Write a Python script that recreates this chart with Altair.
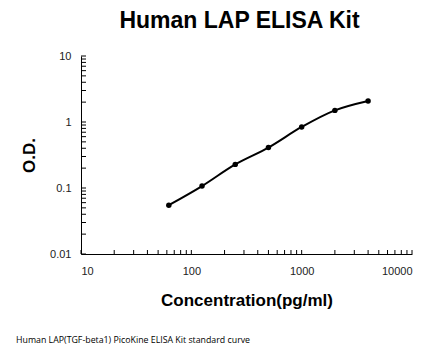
import altair as alt
import pandas as pd

conc = [62.5, 125, 250, 500, 1000, 2000, 4000]
od = [0.055, 0.107, 0.228, 0.41, 0.84, 1.50, 2.08]

x_major = [10, 100, 1000, 10000]
y_major = [0.01, 0.1, 1, 10]
x_minor = [m * 10 ** e for e in range(1, 4) for m in range(2, 10)]
y_minor = [m * 10.0 ** e for e in range(-2, 1) for m in range(2, 10)]

title_text = "Human LAP ELISA Kit"
x_title = "Concentration(pg/ml)"
y_title = "O.D."
footnote = "Human LAP(TGF-beta1) PicoKine ELISA Kit standard curve"

W, H = 331, 198
FONT = "Liberation Sans"

df = pd.DataFrame({"conc": conc, "od": od})

xs = alt.Scale(type="log", domain=[10, 10000])
ys = alt.Scale(type="log", domain=[0.01, 10])

xaxis = alt.Axis(values=x_major, format="~g", ticks=False, grid=False,
                 domainColor="black", domainWidth=1,
                 labelFont=FONT, labelFontSize=11, labelColor="#222",
                 labelPadding=11, title=x_title, titleFont=FONT,
                 titleFontSize=17, titleFontWeight="bold", titleColor="black",
                 titlePadding=16)
yaxis = alt.Axis(values=y_major, format="~g", ticks=False, grid=False,
                 domainColor="black", domainWidth=1,
                 labelFont=FONT, labelFontSize=11, labelColor="#222",
                 labelPadding=10, title=y_title, titleFont=FONT,
                 titleFontSize=17, titleFontWeight="bold", titleColor="black",
                 titlePadding=11)

line = alt.Chart(df).mark_line(color="black", strokeWidth=2,
                               interpolate="catmull-rom").encode(
    x=alt.X("conc:Q", scale=xs, axis=xaxis),
    y=alt.Y("od:Q", scale=ys, axis=yaxis),
)
pts = alt.Chart(df).mark_point(filled=True, color="black", size=30,
                               opacity=1).encode(
    x=alt.X("conc:Q", scale=xs),
    y=alt.Y("od:Q", scale=ys),
)

xt = pd.DataFrame({"v": x_major + x_minor})
yt = pd.DataFrame({"v": y_major + y_minor})
xticks = alt.Chart(xt).mark_rule(color="black", strokeWidth=1).encode(
    x=alt.X("v:Q", scale=xs),
    y=alt.value(H), y2=alt.value(H - 4),
)
yticks = alt.Chart(yt).mark_rule(color="black", strokeWidth=1).encode(
    y=alt.Y("v:Q", scale=ys),
    x=alt.value(0), x2=alt.value(5),
)

note = alt.Chart(pd.DataFrame({"t": [footnote]})).mark_text(
    align="left", baseline="middle", font="Open Sans", fontSize=8.8,
    color="black").encode(
    text="t:N", x=alt.value(-65), y=alt.value(284),
)

chart = alt.layer(line, pts, xticks, yticks, note).properties(
    width=W, height=H,
    title=alt.TitleParams(title_text, font=FONT, fontSize=23,
                          fontWeight="bold", color="black", anchor="middle",
                          dx=-7, offset=17),
    autosize=alt.AutoSizeParams(type="none"),
    padding={"left": 73, "top": 48, "right": 26, "bottom": 94},
).configure(background="white", view=alt.ViewConfig(stroke=None))

chart.save("out.html", embed_options={"renderer": "svg", "actions": False})
